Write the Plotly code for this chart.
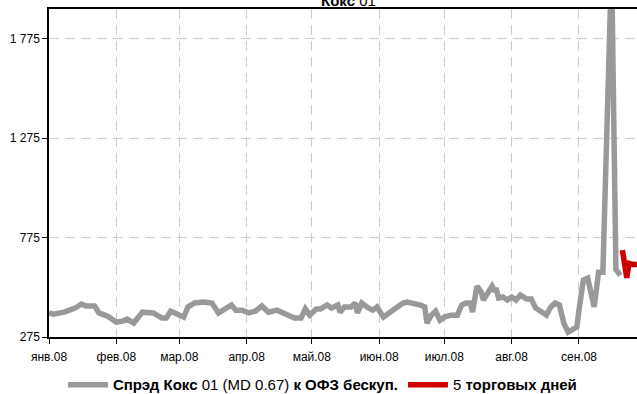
import plotly.graph_objects as go

# ---- data ----
spread_dates = [
    "2008-01-01", "2008-01-03", "2008-01-08", "2008-01-13", "2008-01-16", "2008-01-18",
    "2008-01-22", "2008-01-24", "2008-01-28", "2008-02-01", "2008-02-04", "2008-02-06",
    "2008-02-09", "2008-02-11", "2008-02-13", "2008-02-18", "2008-02-22", "2008-02-24",
    "2008-02-26", "2008-02-28", "2008-03-03", "2008-03-05", "2008-03-08", "2008-03-12",
    "2008-03-16", "2008-03-19", "2008-03-23", "2008-03-25", "2008-03-27", "2008-03-30",
    "2008-04-02", "2008-04-05", "2008-04-08", "2008-04-11", "2008-04-15", "2008-04-18",
    "2008-04-21", "2008-04-23", "2008-04-26", "2008-04-28", "2008-04-30", "2008-05-03",
    "2008-05-05", "2008-05-08", "2008-05-10", "2008-05-13", "2008-05-14", "2008-05-16",
    "2008-05-19", "2008-05-21", "2008-05-22", "2008-05-24", "2008-05-27", "2008-05-29",
    "2008-05-31", "2008-06-03", "2008-06-06", "2008-06-09", "2008-06-12", "2008-06-14",
    "2008-06-17", "2008-06-20", "2008-06-22", "2008-06-23", "2008-06-25", "2008-06-27",
    "2008-06-29", "2008-07-01", "2008-07-04", "2008-07-07", "2008-07-09", "2008-07-11",
    "2008-07-13", "2008-07-14", "2008-07-16", "2008-07-18", "2008-07-19", "2008-07-21",
    "2008-07-23", "2008-07-24", "2008-07-25", "2008-07-26", "2008-07-28", "2008-07-30",
    "2008-08-01", "2008-08-03", "2008-08-05", "2008-08-08", "2008-08-10", "2008-08-12",
    "2008-08-15", "2008-08-17", "2008-08-19", "2008-08-21", "2008-08-23", "2008-08-25",
    "2008-08-27", "2008-08-29", "2008-08-31", "2008-09-01", "2008-09-03", "2008-09-05",
    "2008-09-08", "2008-09-10", "2008-09-12", "2008-09-16", "2008-09-18", "2008-09-20",
]
spread_values = [
    396, 390, 400, 421, 441, 431,
    431, 396, 380, 350, 355, 365,
    345, 375, 400, 396, 370, 370,
    405, 396, 375, 426, 446, 451,
    446, 396, 426, 436, 410, 410,
    396, 405, 431, 400, 410, 396,
    385, 370, 370, 416, 385, 416,
    416, 436, 421, 436, 400, 426,
    426, 446, 396, 446, 421, 410,
    426, 375, 400, 421, 446, 451,
    446, 436, 426, 345, 385, 405,
    360, 375, 385, 385, 436, 446,
    446, 400, 531, 501, 461, 496,
    531, 511, 511, 471, 476, 461,
    476, 461, 486, 466, 466, 421,
    400, 385, 426, 446, 436, 345,
    300, 315, 325, 410, 561, 571,
    426, 601, 601, 2150, 615, 585,
]

last5_dates = ["2008-09-21", "2008-09-23", "2008-09-24", "2008-09-26", "2008-09-29"]
last5_values = [712, 573, 645, 640, 640]

y_tickvals = [275, 775, 1275, 1775]
y_ticktext = ["275", "775", "1 275", "1 775"]

x_tickvals = ["2008-01-01", "2008-02-01", "2008-03-01", "2008-04-01", "2008-05-01",
              "2008-06-01", "2008-07-01", "2008-08-01", "2008-09-01"]
x_ticktext = ["янв.08", "фев.08", "мар.08", "апр.08", "май.08",
              "июн.08", "июл.08", "авг.08", "сен.08"]

FONT = "Liberation Sans, Arial, sans-serif"

fig = go.Figure()
fig.add_trace(go.Scatter(
    x=spread_dates, y=spread_values, mode="lines",
    line=dict(color="#999999", width=5.5),
    name="<b>Спрэд Кокс</b> 01 (MD 0.67) <b>к ОФЗ бескуп.</b>",
))
fig.add_trace(go.Scatter(
    x=last5_dates, y=last5_values, mode="lines",
    line=dict(color="#cc0000", width=5.5),
    name="5 <b>торговых дней</b>",
))

fig.update_layout(
    width=637, height=394,
    margin=dict(l=49, r=0, t=9, b=57, autoexpand=False),
    paper_bgcolor="white", plot_bgcolor="white",
    font=dict(family=FONT, size=12, color="#000000"),
    showlegend=True,
    legend=dict(orientation="h", x=0.465, xanchor="center", y=-0.146, yanchor="middle",
                font=dict(size=15, family=FONT), itemwidth=40,
                bgcolor="rgba(0,0,0,0)", tracegroupgap=0),
    annotations=[dict(text="<b>Кокс</b> 01", xref="paper", yref="paper",
                      x=0.51, y=1.0, yanchor="bottom", xanchor="center",
                      showarrow=False, font=dict(size=15, family=FONT), yshift=-2)],
)

fig.update_xaxes(
    type="date", range=["2008-01-01", "2008-09-27 17:00"],
    tickvals=x_tickvals, ticktext=x_ticktext,
    showline=True, linecolor="#000000", linewidth=1.5, mirror=True,
    ticks="outside", ticklen=5, tickcolor="#000000", tickwidth=1,
    ticklabelstandoff=3, automargin=False,
    showgrid=True, gridcolor="#cccccc", gridwidth=1, griddash="10px,6px",
    zeroline=False, tickfont=dict(size=12),
)
fig.update_yaxes(
    range=[275, 1925],
    tickvals=y_tickvals, ticktext=y_ticktext,
    showline=True, linecolor="#000000", linewidth=1.5,
    ticks="outside", ticklen=5, tickcolor="#000000", tickwidth=1,
    ticklabelstandoff=0, automargin=False,
    showgrid=True, gridcolor="#cccccc", gridwidth=1, griddash="10px,6px",
    zeroline=False, tickfont=dict(size=12),
)

fig.write_html("out.html", config={"displayModeBar": False},
               post_script="document.body.style.margin='0';document.body.style.overflow='hidden';")
